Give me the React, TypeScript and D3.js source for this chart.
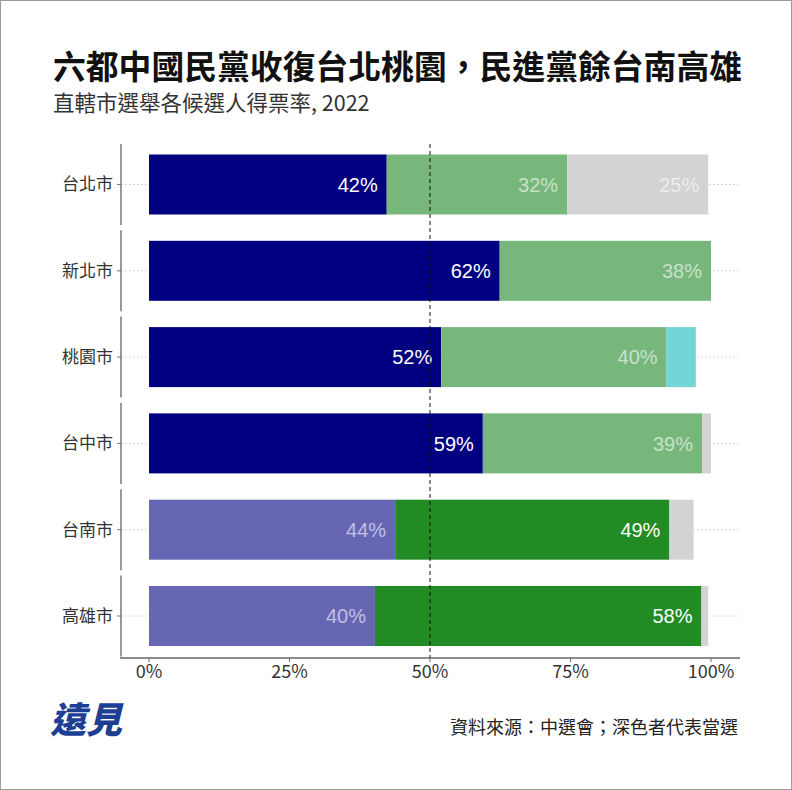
import React from "react";
import * as d3 from "d3";

const cities = ["台北市", "新北市", "桃園市", "台中市", "台南市", "高雄市"];
// segment values per city, in order
const seg1 = [42.3, 62.4, 52.0, 59.4, 43.8, 40.2];
const seg2 = [32.1, 37.6, 40.1, 39.0, 48.8, 58.1];
const seg3 = [25.1, 0, 5.2, 1.6, 4.3, 1.2];
const seg1Colors = ["#000080", "#000080", "#000080", "#000080", "#6666b4", "#6666b4"];
const seg2Colors = ["#78b77c", "#78b77c", "#78b77c", "#78b77c", "#238b23", "#238b23"];
const seg3Colors = ["#d3d3d3", "#d3d3d3", "#72d6d6", "#d3d3d3", "#d3d3d3", "#d3d3d3"];
const seg1Winner = [true, true, true, true, false, false];
const seg2Winner = [false, false, false, false, true, true];
const ticks = [0, 25, 50, 75, 100];

const title = "六都中國民黨收復台北桃園，民進黨餘台南高雄";
const subtitle = "直轄市選舉各候選人得票率, 2022";
const source = "資料來源：中選會；深色者代表當選";

const W = 792;
const H = 790;
const cjk = "'Noto Sans CJK TC', 'Noto Sans', sans-serif";
const lat = "'Liberation Sans', Arial, sans-serif";

export default function App() {
  const x = d3.scaleLinear().domain([0, 100]).range([149, 711]);
  const y = d3.scalePoint<string>().domain(cities).range([184.5, 616]);
  const panelHalf = 40.5;
  const barHalf = 30;
  const axisX = 121;
  const axisY = 658;

  const fmt = (v: number) => `${Math.round(v)}%`;

  return (
    <svg
      width={W}
      height={H}
      style={{ position: "absolute", left: 0, top: 0, display: "block", background: "#fff" }}
    >
      <rect x={0.5} y={0.5} width={W - 1} height={H - 1} fill="#fff" stroke="#9a9a9a" />
      <text
        x={53}
        y={79}
        fontFamily={cjk}
        fontWeight={700}
        fontSize={33}
        fill="#111"
        textLength={689}
        lengthAdjust="spacingAndGlyphs"
      >
        {title}
      </text>
      <text x={53} y={111} fontFamily={cjk} fontSize={21.5} fill="#333">
        {subtitle}
      </text>

      {cities.map((c, i) => {
        const cy = y(c)!;
        const s1 = seg1[i];
        const s2 = seg2[i];
        const s3 = seg3[i];
        const total = s1 + s2 + s3;
        return (
          <g key={c}>
            {/* gridline */}
            <line
              x1={axisX}
              x2={738}
              y1={cy}
              y2={cy}
              stroke="#c8c8c8"
              strokeWidth={1}
              strokeDasharray="1.5,2.5"
            />
            {/* left axis segment */}
            <line x1={axisX} x2={axisX} y1={cy - panelHalf} y2={cy + panelHalf} stroke="#777" strokeWidth={1.5} />
            <line x1={axisX - 4} x2={axisX} y1={cy} y2={cy} stroke="#777" strokeWidth={1} />
            <text
              x={axisX - 8}
              y={cy}
              dy="0.35em"
              textAnchor="end"
              fontFamily={cjk}
              fontSize={17}
              fill="#333"
            >
              {c}
            </text>
            <rect x={x(0)} y={cy - barHalf} width={x(s1) - x(0)} height={barHalf * 2} fill={seg1Colors[i]} />
            <rect x={x(s1)} y={cy - barHalf} width={x(s1 + s2) - x(s1)} height={barHalf * 2} fill={seg2Colors[i]} />
            {s3 > 0 && (
              <rect
                x={x(s1 + s2)}
                y={cy - barHalf}
                width={x(total) - x(s1 + s2)}
                height={barHalf * 2}
                fill={seg3Colors[i]}
              />
            )}
            <text
              x={x(s1) - 9}
              y={cy}
              dy="0.36em"
              textAnchor="end"
              fontFamily={lat}
              fontSize={20}
              fill="#fff"
              fillOpacity={seg1Winner[i] ? 1 : 0.6}
            >
              {fmt(s1)}
            </text>
            <text
              x={x(s1 + s2) - 9}
              y={cy}
              dy="0.36em"
              textAnchor="end"
              fontFamily={lat}
              fontSize={20}
              fill="#fff"
              fillOpacity={seg2Winner[i] ? 1 : 0.6}
            >
              {fmt(s2)}
            </text>
            {s3 > 10 && (
              <text
                x={x(total) - 9}
                y={cy}
                dy="0.36em"
                textAnchor="end"
                fontFamily={lat}
                fontSize={20}
                fill="#fff"
                fillOpacity={0.6}
              >
                {fmt(s3)}
              </text>
            )}
          </g>
        );
      })}

      {/* 50% reference line */}
      <line
        x1={x(50)}
        x2={x(50)}
        y1={y(cities[0])! - panelHalf}
        y2={axisY}
        stroke="#111"
        strokeWidth={1}
        strokeDasharray="4,3"
      />

      {/* x axis */}
      <line x1={axisX - 1} x2={740} y1={axisY} y2={axisY} stroke="#666" strokeWidth={1.5} />
      {ticks.map((t) => (
        <g key={t}>
          <line x1={x(t)} x2={x(t)} y1={axisY} y2={axisY + 4} stroke="#666" strokeWidth={1} />
          <text
            x={x(t)}
            y={axisY + 20}
            textAnchor="middle"
            fontFamily={cjk}
            fontSize={18}
            fill="#333"
          >
            {`${t}%`}
          </text>
        </g>
      ))}

      {/* logo */}
      <text
        x={50}
        y={733}
        fontFamily={cjk}
        fontWeight={900}
        fontSize={36}
        fill="#1c3f94"
        fontStyle="italic"
      >
        遠見
      </text>

      <text x={738} y={734} textAnchor="end" fontFamily={cjk} fontSize={18} fill="#222">
        {source}
      </text>
    </svg>
  );
}
